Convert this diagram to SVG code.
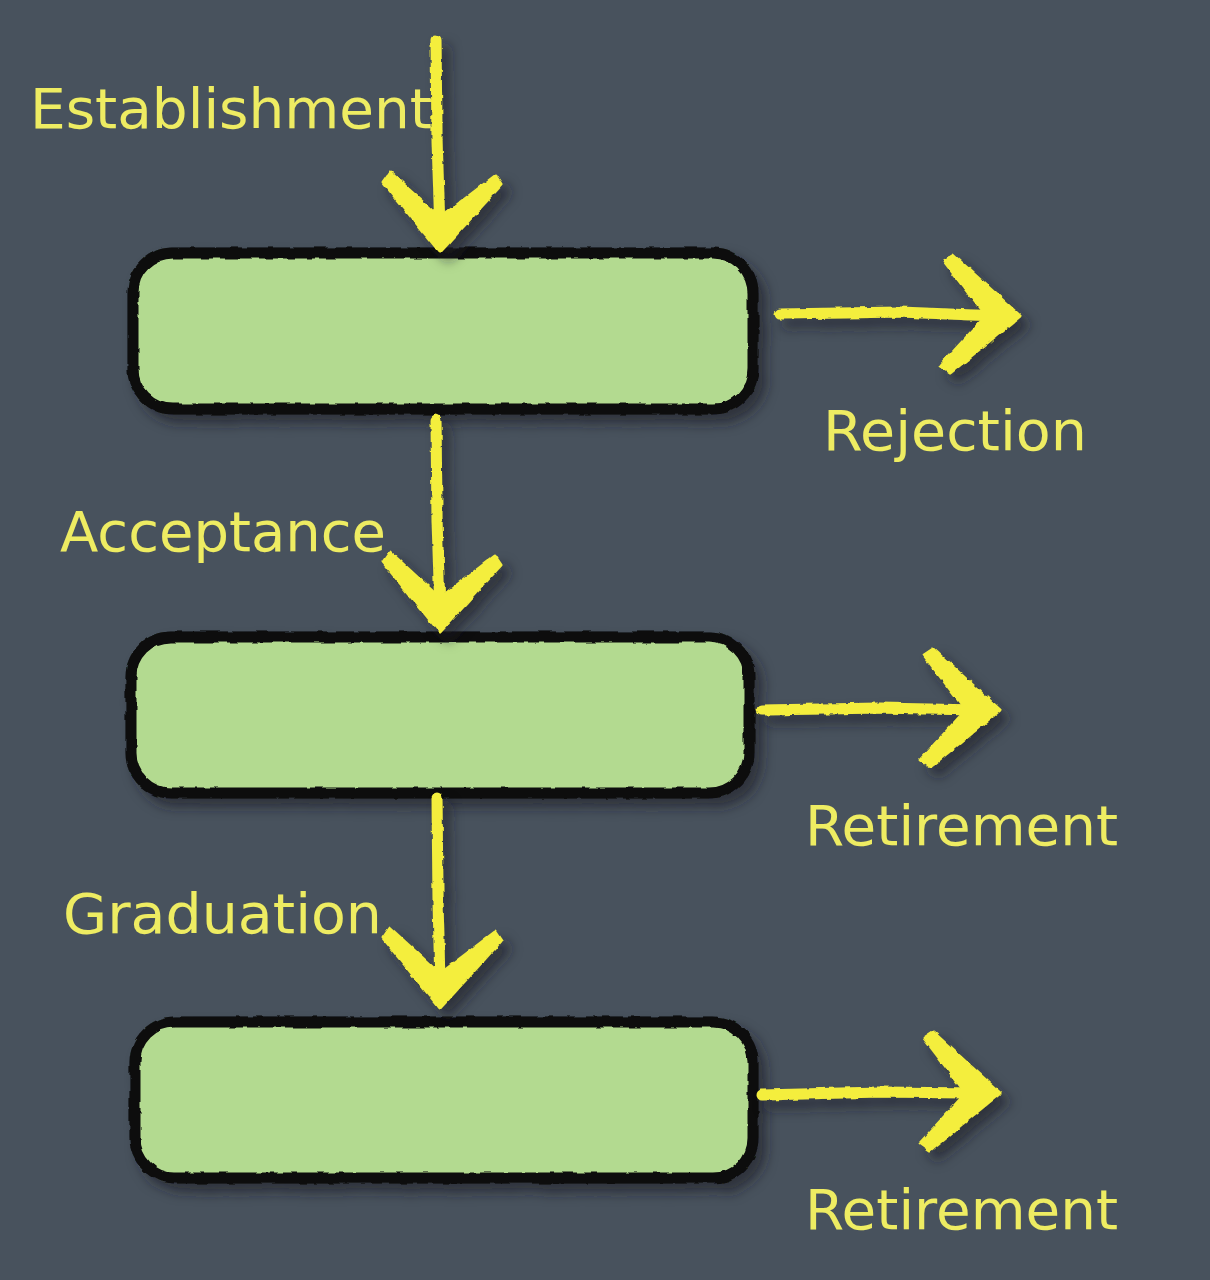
<svg xmlns="http://www.w3.org/2000/svg" width="1210" height="1280" viewBox="0 0 1210 1280">
<defs>
<style>
.box{fill:#b3da90;stroke:#0b0c0a;stroke-width:11;filter:url(#rough)}
.shaft{fill:none;stroke:#f4ee3e;stroke-width:11;stroke-linecap:round;stroke-linejoin:round}
.head{fill:#f4ee3e;stroke:#f4ee3e;stroke-width:3;stroke-linejoin:round}
.lbl{font-family:"DejaVu Sans","Liberation Sans",sans-serif;font-size:56px;fill:#eeec62}
</style>
<path id="head" d="M0 0 L-57 -70 L-50 -80 L0 -34 L55 -76 L61 -67 Z"/>
<filter id="shadow" x="-20%" y="-20%" width="150%" height="150%">
<feDropShadow dx="8" dy="9" stdDeviation="6" flood-color="#1a1f26" flood-opacity="0.6"/>
</filter>
<filter id="rough" x="-5%" y="-5%" width="110%" height="110%">
<feTurbulence type="fractalNoise" baseFrequency="0.08" numOctaves="2" seed="3" result="n"/>
<feDisplacementMap in="SourceGraphic" in2="n" scale="4" xChannelSelector="R" yChannelSelector="G"/>
</filter>
<filter id="chalk" x="-10%" y="-10%" width="120%" height="120%">
<feTurbulence type="fractalNoise" baseFrequency="0.12" numOctaves="2" seed="7" result="n"/>
<feDisplacementMap in="SourceGraphic" in2="n" scale="4" xChannelSelector="R" yChannelSelector="G" result="d"/>
<feDropShadow dx="8" dy="9" stdDeviation="6" flood-color="#1a1f26" flood-opacity="0.6"/>
</filter>
</defs>
<rect x="0" y="0" width="1210" height="1280" fill="#48525d"/>

<g id="nodes" filter="url(#shadow)">
<g id="node-1"><rect class="box" x="133" y="253" width="620" height="156" rx="40" ry="40"/></g>
<g id="node-2"><rect class="box" x="131" y="637" width="618" height="156" rx="40" ry="40"/></g>
<g id="node-3"><rect class="box" x="135" y="1022" width="618" height="156" rx="40" ry="40"/></g>
</g>

<g id="connectors" filter="url(#chalk)">
<g id="arrow-establishment">
<path class="shaft" d="M436 40 L437 140 L440 230"/>
<use href="#head" class="head" transform="translate(440 252)"/>
</g>
<g id="arrow-acceptance">
<path class="shaft" d="M436 420 L437 520 L440 610"/>
<use href="#head" class="head" transform="translate(440 632)"/>
</g>
<g id="arrow-graduation">
<path class="shaft" d="M437 798 L438 900 L440 986"/>
<use href="#head" class="head" transform="translate(440 1008)"/>
</g>
<g id="arrow-rejection">
<path class="shaft" d="M780 314 L900 312 L998 316"/>
<use href="#head" class="head" transform="translate(1020 316) rotate(-90)"/>
</g>
<g id="arrow-retirement-1">
<path class="shaft" d="M762 710 L880 708 L978 710"/>
<use href="#head" class="head" transform="translate(1000 710) rotate(-90)"/>
</g>
<g id="arrow-retirement-2">
<path class="shaft" d="M762 1095 L880 1092 L978 1093"/>
<use href="#head" class="head" transform="translate(1000 1093) rotate(-90)"/>
</g>
</g>

<g id="labels">
<text class="lbl" x="30" y="128" textLength="402" lengthAdjust="spacingAndGlyphs">Establishment</text>
<text class="lbl" x="60" y="551" textLength="326" lengthAdjust="spacingAndGlyphs">Acceptance</text>
<text class="lbl" x="63" y="933" textLength="319" lengthAdjust="spacingAndGlyphs">Graduation</text>
<text class="lbl" x="823" y="450" textLength="264" lengthAdjust="spacingAndGlyphs">Rejection</text>
<text class="lbl" x="805" y="845" textLength="313" lengthAdjust="spacingAndGlyphs">Retirement</text>
<text class="lbl" x="805" y="1229" textLength="313" lengthAdjust="spacingAndGlyphs">Retirement</text>
</g>
</svg>
